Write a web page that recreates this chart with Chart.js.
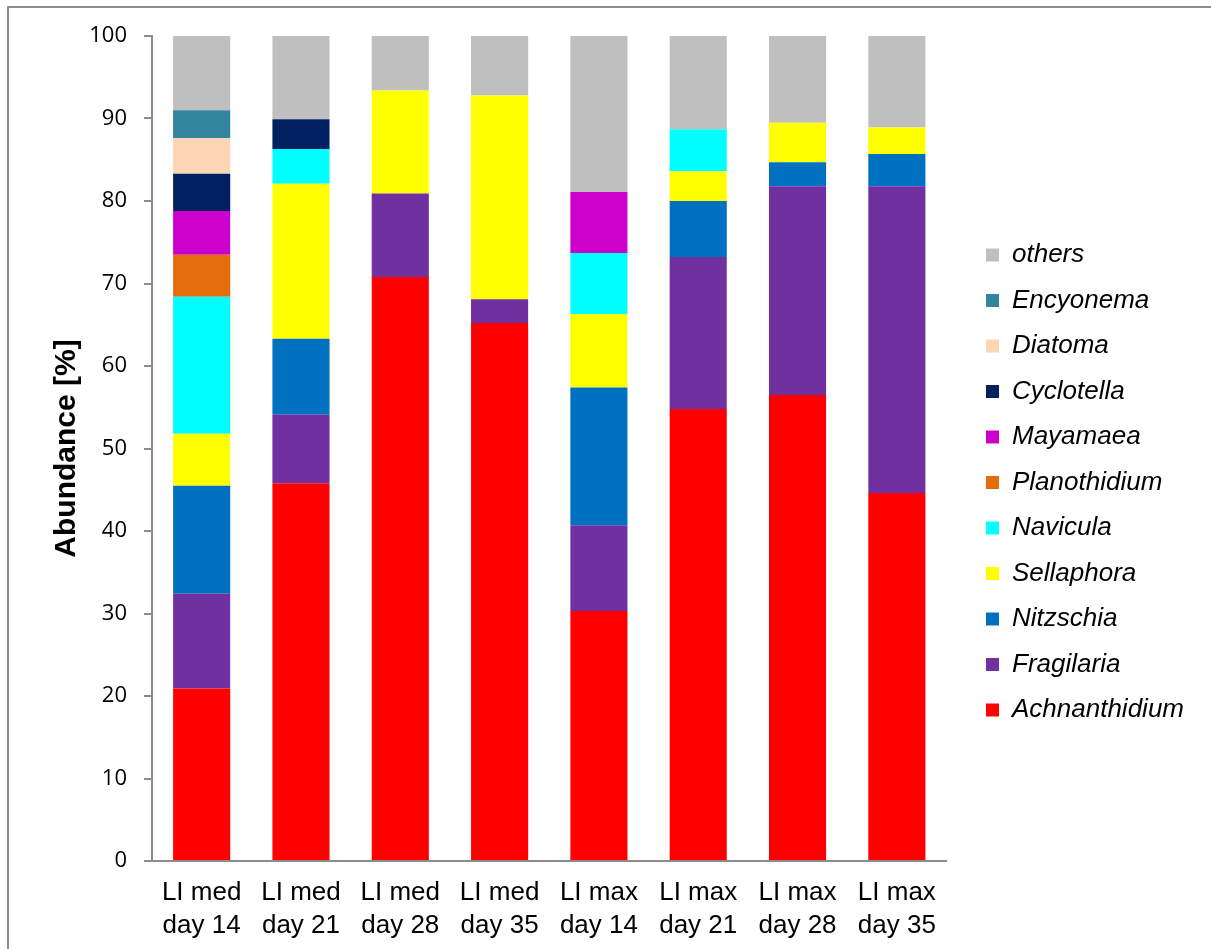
<!DOCTYPE html>
<html>
<head>
<meta charset="utf-8">
<title>Diatom abundance</title>
<script src="https://cdn.jsdelivr.net/npm/chart.js@4/dist/chart.umd.min.js"></script>
<style>
  html, body { margin: 0; padding: 0; background: #ffffff; }
  #wrap { width: 1211px; height: 949px; }
</style>
</head>
<body>
<div id="wrap"><canvas id="chart" width="1211" height="949"></canvas></div>
<script>
// Sampling points (two-line category labels)
const categories = [
  ['LI med', 'day 14'], ['LI med', 'day 21'], ['LI med', 'day 28'], ['LI med', 'day 35'],
  ['LI max', 'day 14'], ['LI max', 'day 21'], ['LI max', 'day 28'], ['LI max', 'day 35']
];

// Relative abundance per genus [%], stacked from the bottom up
const achnanthidium = [20.9, 45.8, 70.8, 65.2, 30.3, 54.8, 56.5, 44.6];
const fragilaria    = [11.5,  8.3, 10.1,  2.9, 10.4, 18.4, 25.3, 37.2];
const nitzschia     = [13.1,  9.2,  0,    0,   16.7,  6.8,  2.9,  3.9];
const sellaphora    = [ 6.3, 18.8, 12.5, 24.7,  8.9,  3.6,  4.8,  3.2];
const navicula      = [16.6,  4.2,  0,    0,    7.4,  5.1,  0,    0  ];
const planothidium  = [ 5.1,  0,    0,    0,    0,    0,    0,    0  ];
const mayamaea      = [ 5.3,  0,    0,    0,    7.4,  0,    0,    0  ];
const cyclotella    = [ 4.5,  3.6,  0,    0,    0,    0,    0,    0  ];
const diatoma       = [ 4.3,  0,    0,    0,    0,    0,    0,    0  ];
const encyonema     = [ 3.4,  0,    0,    0,    0,    0,    0,    0  ];
const others        = [ 9.0, 10.1,  6.6,  7.2, 18.9, 11.3, 10.5, 11.1];

// Y axis tick range
const yTicks = { min: 0, max: 100, step: 10 };

const series = [
  { label: 'Achnanthidium', data: achnanthidium, color: '#FF0000' },
  { label: 'Fragilaria',    data: fragilaria,    color: '#7030A0' },
  { label: 'Nitzschia',     data: nitzschia,     color: '#0070C0' },
  { label: 'Sellaphora',    data: sellaphora,    color: '#FFFF00' },
  { label: 'Navicula',      data: navicula,      color: '#00FFFF' },
  { label: 'Planothidium',  data: planothidium,  color: '#E46C0A' },
  { label: 'Mayamaea',      data: mayamaea,      color: '#CC00CC' },
  { label: 'Cyclotella',    data: cyclotella,    color: '#002060' },
  { label: 'Diatoma',       data: diatoma,       color: '#FCD5B5' },
  { label: 'Encyonema',     data: encyonema,     color: '#31859C' },
  { label: 'others',        data: others,        color: '#BFBFBF' }
];

const axisGray = '#8C8C8C';

// Outer frame around the chart
const framePlugin = {
  id: 'frame',
  beforeDraw(chart) {
    const ctx = chart.ctx;
    ctx.save();
    ctx.fillStyle = '#ffffff';
    ctx.fillRect(0, 0, chart.width, chart.height);
    ctx.strokeStyle = axisGray;
    ctx.lineWidth = 2;
    ctx.strokeRect(8, 7, chart.width + 20, chart.height + 20);
    ctx.restore();
  }
};

// Invisible spacer axes used only to reserve room around the plot
const spacer = (pos, size) => ({
  position: pos,
  display: true,
  grid: { display: false },
  border: { display: false },
  ticks: { display: false },
  afterFit(scale) {
    if (pos === 'top' || pos === 'bottom') scale.height = size; else scale.width = size;
  }
});

new Chart(document.getElementById('chart'), {
  type: 'bar',
  data: {
    labels: categories,
    datasets: series.map(s => ({
      label: s.label,
      data: s.data,
      backgroundColor: s.color,
      borderWidth: 0,
      categoryPercentage: 1.0,
      barPercentage: 0.575
    }))
  },
  options: {
    responsive: false,
    animation: false,
    devicePixelRatio: 1,
    layout: { padding: { top: 16, right: 17, bottom: 0, left: 0 } },
    plugins: {
      tooltip: { enabled: false },
      legend: {
        position: 'right',
        reverse: true,
        maxWidth: 300,
        labels: {
          boxWidth: 13,
          boxHeight: 13,
          padding: 19.5,
          color: '#000000',
          font: { family: 'Liberation Sans', size: 26, style: 'italic' }
        }
      }
    },
    scales: {
      x: {
        stacked: true,
        grid: { display: false },
        border: { display: true, color: axisGray, width: 2 },
        ticks: {
          autoSkip: false,
          maxRotation: 0,
          padding: 7,
          color: '#000000',
          font: { family: 'Liberation Sans', size: 26, lineHeight: 1.27 }
        },
        afterFit(scale) { scale.height = 88; }
      },
      y: {
        stacked: true,
        min: yTicks.min,
        max: yTicks.max,
        grid: { drawOnChartArea: false, drawTicks: true, tickLength: 8, color: axisGray, lineWidth: 2 },
        border: { display: true, color: axisGray, width: 2 },
        ticks: {
          stepSize: yTicks.step,
          padding: 17,
          color: '#000000',
          font: { family: 'Open Sans', size: 22 }
        },
        title: {
          display: true,
          text: 'Abundance [%]',
          color: '#000000',
          font: { family: 'Liberation Sans', size: 30, weight: 'bold' },
          padding: { top: 49, bottom: 0 }
        },
        afterFit(scale) { scale.width = 152; }
      },
      gapTop: spacer('top', 20),
      gapRight: spacer('right', 20)
    }
  },
  plugins: [framePlugin]
});
</script>
</body>
</html>
